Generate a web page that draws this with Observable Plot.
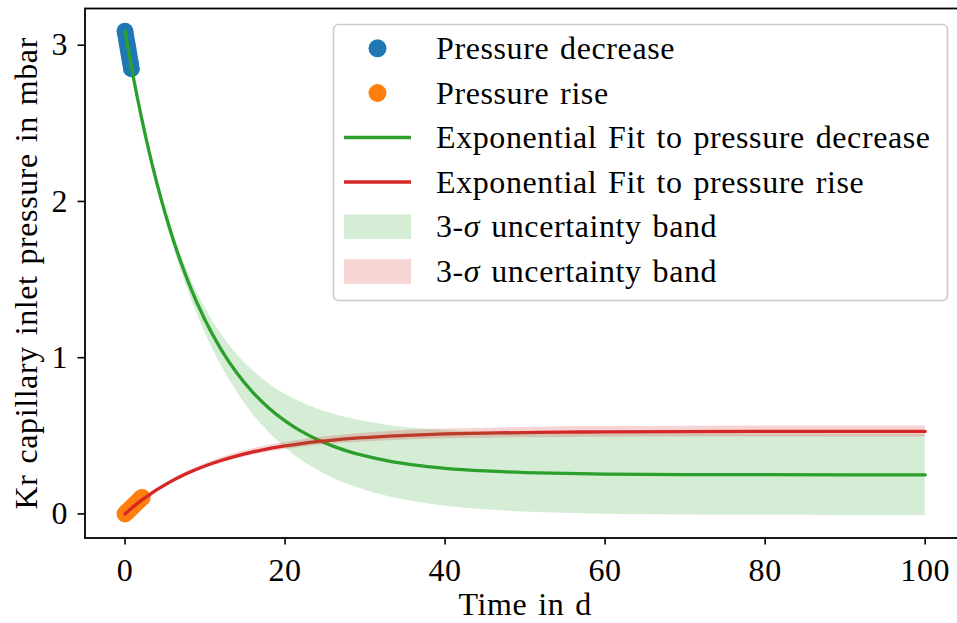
<!DOCTYPE html>
<html>
<head>
<meta charset="utf-8">
<script src="https://cdn.jsdelivr.net/npm/d3@7"></script>
<script src="https://cdn.jsdelivr.net/npm/@observablehq/plot@0.6"></script>
<style>
  body { margin: 0; background: white; }
  #wrap { position: relative; width: 957px; height: 623px; overflow: hidden; background: white; }
  #wrap svg.plot, #wrap svg { max-width: none !important; }
  #wrap text { letter-spacing: 0.6px; word-spacing: 2.3px; }
  #legend { position: absolute; left: 0; top: 0; pointer-events: none; }
  #legend text { font-family: "Liberation Serif", serif; font-size: 32px; fill: black; letter-spacing: 0.6px; word-spacing: 2.3px; }
</style>
</head>
<body>
<div id="wrap"></div>
<script>
// ---- data ----
const xTicks = [0, 20, 40, 60, 80, 100];
const yTicks = [0, 1, 2, 3];

const tFit    = [0, 1, 2, 3, 4, 5, 6, 7, 8, 10, 12, 14, 16, 18, 20, 22, 24, 26, 28, 30, 33, 36, 40, 45, 50, 55, 60, 70, 80, 90, 100];
const greenFit = [3.09, 2.806, 2.551, 2.321, 2.114, 1.928, 1.760, 1.609, 1.473, 1.241, 1.053, 0.900, 0.777, 0.677, 0.596, 0.530, 0.477, 0.434, 0.399, 0.371, 0.338, 0.314, 0.292, 0.275, 0.265, 0.259, 0.255, 0.252, 0.251, 0.250, 0.250];
const greenLo  = [3.09, 2.801, 2.541, 2.304, 2.089, 1.895, 1.718, 1.558, 1.413, 1.161, 0.953, 0.780, 0.637, 0.522, 0.426, 0.345, 0.282, 0.229, 0.186, 0.151, 0.110, 0.079, 0.050, 0.027, 0.013, 0.004, -0.002, -0.007, -0.009, -0.010, -0.010];
const greenHi  = [3.09, 2.811, 2.561, 2.338, 2.139, 1.961, 1.802, 1.660, 1.533, 1.321, 1.153, 1.020, 0.917, 0.832, 0.766, 0.715, 0.672, 0.639, 0.612, 0.591, 0.566, 0.549, 0.534, 0.523, 0.517, 0.514, 0.512, 0.511, 0.511, 0.510, 0.510];
const redFit   = [0, 0.044, 0.085, 0.121, 0.155, 0.186, 0.215, 0.241, 0.265, 0.307, 0.342, 0.372, 0.397, 0.418, 0.435, 0.450, 0.463, 0.473, 0.482, 0.489, 0.498, 0.505, 0.512, 0.517, 0.521, 0.524, 0.525, 0.527, 0.528, 0.528, 0.528];
const redLo    = [0, 0.042, 0.081, 0.115, 0.147, 0.176, 0.204, 0.229, 0.252, 0.292, 0.325, 0.353, 0.376, 0.396, 0.412, 0.426, 0.438, 0.447, 0.455, 0.461, 0.469, 0.475, 0.481, 0.485, 0.488, 0.490, 0.491, 0.492, 0.493, 0.493, 0.493];
const redHi    = [0, 0.046, 0.089, 0.127, 0.163, 0.196, 0.226, 0.253, 0.278, 0.322, 0.359, 0.391, 0.418, 0.440, 0.458, 0.474, 0.488, 0.499, 0.509, 0.517, 0.527, 0.535, 0.543, 0.549, 0.554, 0.558, 0.559, 0.562, 0.563, 0.563, 0.563];

const tDecrease = [0, 0.1, 0.2, 0.3, 0.4, 0.5, 0.6, 0.7, 0.8];
const pDecrease = [3.09, 3.06, 3.03, 3.00, 2.97, 2.94, 2.91, 2.88, 2.85];
const tRise = [0, 0.2, 0.4, 0.6, 0.8, 1.0, 1.2, 1.4, 1.6, 1.8, 2.0, 2.15];
const pRise = [0, 0.01, 0.02, 0.03, 0.04, 0.05, 0.06, 0.07, 0.08, 0.09, 0.10, 0.105];

const legendLabels = ["Pressure decrease", "Pressure rise", "Exponential Fit to pressure decrease", "Exponential Fit to pressure rise", "3-σ uncertainty band", "3-σ uncertainty band"];
const colors = {blue: "#1f77b4", orange: "#ff7f0e", green: "#2ca02c", red: "#d62728"};

// ---- tables ----
const fit = tFit.map((t, i) => ({t, g: greenFit[i], gl: greenLo[i], gh: greenHi[i], r: redFit[i], rl: redLo[i], rh: redHi[i]}));
const dec = tDecrease.map((t, i) => ({t, p: pDecrease[i]}));
const rise = tRise.map((t, i) => ({t, p: pRise[i]}));

const W = 970, H = 623;
const chart = Plot.plot({
  width: W, height: H,
  marginLeft: 84.5, marginRight: 5.3, marginTop: 8, marginBottom: 85.5,
  x: {domain: [-5, 105]},
  y: {domain: [-0.154, 3.235]},
  style: {fontFamily: "Liberation Serif, serif", fontSize: "32px", color: "black", background: "white", maxWidth: "none"},
  marks: [
    Plot.dot(dec, {x: "t", y: "p", r: 8.5, fill: colors.blue, stroke: "none"}),
    Plot.dot(rise, {x: "t", y: "p", r: 8.5, fill: colors.orange, stroke: "none"}),
    Plot.line(fit, {x: "t", y: "g", stroke: colors.green, strokeWidth: 3.3, curve: "monotone-x"}),
    Plot.line(fit, {x: "t", y: "r", stroke: colors.red, strokeWidth: 3.3, curve: "monotone-x"}),
    Plot.areaY(fit, {x: "t", y1: "gl", y2: "gh", fill: colors.green, fillOpacity: 0.2, curve: "monotone-x"}),
    Plot.areaY(fit, {x: "t", y1: "rl", y2: "rh", fill: colors.red, fillOpacity: 0.2, curve: "monotone-x"}),
    Plot.axisX({ticks: xTicks, tickSize: 7, tickPadding: 13, strokeWidth: 1.6, label: null, fontVariant: "normal", tickFormat: d3.format("d")}),
    Plot.axisY({ticks: yTicks, tickSize: 7, tickPadding: 10, strokeWidth: 1.6, label: null, fontVariant: "normal", tickFormat: d3.format("d")}),
    Plot.text(["Time in d"], {text: d => d, frameAnchor: "bottom", lineAnchor: "middle", dy: 67, fill: "black"}),
    Plot.text(["Kr capillary inlet pressure in mbar"], {text: d => d, frameAnchor: "left", textAnchor: "middle", lineAnchor: "middle", rotate: -90, dx: -58, fill: "black"}),
    Plot.frame({stroke: "black", strokeWidth: 1.8})
  ]
});
const wrap = document.getElementById("wrap");
wrap.appendChild(chart);

// ---- legend (matplotlib-style box) ----
const rowY = [48.3, 93.0, 137.5, 182.0, 226.7, 271.5];
const hx0 = 344, hx1 = 411, tx = 436;
let items = "";
legendLabels.forEach((lab, i) => {
  const cy = rowY[i];
  if (i === 0) items += `<circle cx="377.5" cy="${cy}" r="9" fill="${colors.blue}"/>`;
  if (i === 1) items += `<circle cx="377.5" cy="${cy}" r="9" fill="${colors.orange}"/>`;
  if (i === 2) items += `<line x1="${hx0}" x2="${hx1}" y1="${cy}" y2="${cy}" stroke="${colors.green}" stroke-width="3.3"/>`;
  if (i === 3) items += `<line x1="${hx0}" x2="${hx1}" y1="${cy}" y2="${cy}" stroke="${colors.red}" stroke-width="3.3"/>`;
  if (i === 4) items += `<rect x="${hx0}" y="${cy - 12.3}" width="${hx1 - hx0}" height="24.6" fill="${colors.green}" fill-opacity="0.2"/>`;
  if (i === 5) items += `<rect x="${hx0}" y="${cy - 12.3}" width="${hx1 - hx0}" height="24.6" fill="${colors.red}" fill-opacity="0.2"/>`;
  const t = lab.replace("σ", '<tspan font-style="italic">σ</tspan>');
  items += `<text x="${tx}" y="${cy + 10.5}">${t}</text>`;
});
const leg = document.createElement("div");
leg.id = "legend";
leg.innerHTML = `<svg width="957" height="623" xmlns="http://www.w3.org/2000/svg">
  <rect x="333.5" y="24.5" width="614" height="276" rx="5" ry="5" fill="white" fill-opacity="0.8" stroke="#cccccc" stroke-width="1.6"/>
  ${items}
</svg>`;
wrap.appendChild(leg);
</script>
</body>
</html>
